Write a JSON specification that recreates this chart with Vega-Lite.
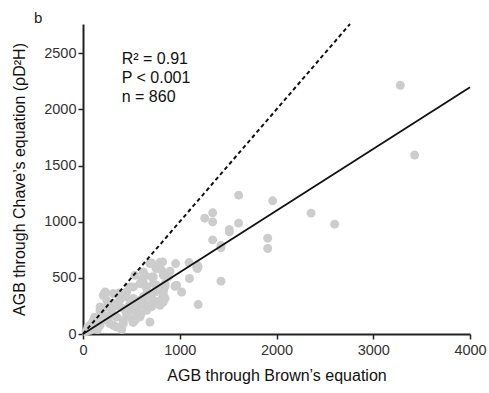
{
  "$schema": "https://vega.github.io/schema/vega-lite/v6.json",
  "width": 387,
  "height": 310,
  "autosize": {"type": "none"},
  "padding": {"left": 83, "top": 24, "right": 19, "bottom": 59},
  "background": "white",
  "title": {"text": "b", "anchor": "start", "frame": "group", "fontSize": 15, "fontWeight": "normal", "font": "Liberation Sans", "color": "#222", "dx": -49, "dy": 10, "offset": 4},
  "config": {
    "view": {"stroke": null},
    "font": "Liberation Sans",
    "axis": {
      "grid": false,
      "domainColor": "#222",
      "domainWidth": 2,
      "tickColor": "#222",
      "tickWidth": 1.5,
      "tickSize": 5,
      "labelColor": "#333",
      "labelFont": "Liberation Sans",
      "labelFontSize": 14.5,
      "titleFont": "Liberation Sans",
      "titleFontSize": 16,
      "titleFontWeight": "normal",
      "titleColor": "#111"
    }
  },
  "datasets": {
    "trees": [
      {"brown": 3280, "chave": 2214}, {"brown": 3428, "chave": 1593}, {"brown": 1609, "chave": 1236}, {"brown": 1960, "chave": 1186},
      {"brown": 1258, "chave": 1031}, {"brown": 1340, "chave": 1079}, {"brown": 1340, "chave": 998}, {"brown": 1609, "chave": 987},
      {"brown": 1512, "chave": 930}, {"brown": 1512, "chave": 909}, {"brown": 2357, "chave": 1076}, {"brown": 2601, "chave": 978},
      {"brown": 1340, "chave": 838}, {"brown": 1426, "chave": 788}, {"brown": 1426, "chave": 767}, {"brown": 1909, "chave": 853},
      {"brown": 1909, "chave": 761}, {"brown": 1426, "chave": 470}, {"brown": 1190, "chave": 600}, {"brown": 1190, "chave": 262},
      {"brown": 823, "chave": 642}, {"brown": 958, "chave": 627}, {"brown": 1096, "chave": 636}, {"brown": 1181, "chave": 612},
      {"brown": 755, "chave": 583}, {"brown": 1181, "chave": 583}, {"brown": 882, "chave": 508}, {"brown": 710, "chave": 508},
      {"brown": 1100, "chave": 494}, {"brown": 951, "chave": 425}, {"brown": 848, "chave": 425}, {"brown": 710, "chave": 633},
      {"brown": 1175, "chave": 592}, {"brown": 830, "chave": 523}, {"brown": 968, "chave": 434}, {"brown": 1020, "chave": 374},
      {"brown": 830, "chave": 374}, {"brown": 710, "chave": 247}, {"brown": 537, "chave": 122}, {"brown": 589, "chave": 449},
      {"brown": 623, "chave": 494}, {"brown": 537, "chave": 523}, {"brown": 658, "chave": 360}, {"brown": 589, "chave": 300},
      {"brown": 417, "chave": 122}, {"brown": 313, "chave": 78}, {"brown": 107, "chave": 122}, {"brown": 72, "chave": 78},
      {"brown": 176, "chave": 211}, {"brown": 313, "chave": 271}, {"brown": 451, "chave": 330}, {"brown": 486, "chave": 419},
      {"brown": 520, "chave": 300}, {"brown": 417, "chave": 226}, {"brown": 279, "chave": 167}, {"brown": 796, "chave": 639},
      {"brown": 692, "chave": 627}, {"brown": 813, "chave": 568}, {"brown": 623, "chave": 553}, {"brown": 607, "chave": 479},
      {"brown": 727, "chave": 449}, {"brown": 848, "chave": 449}, {"brown": 520, "chave": 419}, {"brown": 658, "chave": 405},
      {"brown": 744, "chave": 374}, {"brown": 227, "chave": 374}, {"brown": 313, "chave": 360}, {"brown": 451, "chave": 374},
      {"brown": 382, "chave": 330}, {"brown": 520, "chave": 316}, {"brown": 245, "chave": 300}, {"brown": 623, "chave": 300},
      {"brown": 848, "chave": 316}, {"brown": 692, "chave": 256}, {"brown": 796, "chave": 256}, {"brown": 245, "chave": 241},
      {"brown": 520, "chave": 241}, {"brown": 382, "chave": 241}, {"brown": 640, "chave": 523}, {"brown": 727, "chave": 508},
      {"brown": 640, "chave": 434}, {"brown": 762, "chave": 434}, {"brown": 830, "chave": 389}, {"brown": 658, "chave": 345},
      {"brown": 830, "chave": 345}, {"brown": 640, "chave": 271}, {"brown": 830, "chave": 285}, {"brown": 210, "chave": 345},
      {"brown": 417, "chave": 330}, {"brown": 623, "chave": 330}, {"brown": 176, "chave": 241}, {"brown": 486, "chave": 211},
      {"brown": 589, "chave": 152}, {"brown": 520, "chave": 107}, {"brown": 417, "chave": 93}, {"brown": 279, "chave": 93},
      {"brown": 141, "chave": 62}, {"brown": 72, "chave": 33}, {"brown": 658, "chave": 211}, {"brown": 692, "chave": 107},
      {"brown": 313, "chave": 167}, {"brown": 176, "chave": 152}, {"brown": 107, "chave": 107}, {"brown": 176, "chave": 78},
      {"brown": 517, "chave": 104}, {"brown": 348, "chave": 62}, {"brown": 823, "chave": 330}, {"brown": 703, "chave": 330},
      {"brown": 703, "chave": 241}, {"brown": 589, "chave": 256}, {"brown": 234, "chave": 369}, {"brown": 503, "chave": 137},
      {"brown": 30, "chave": 20}, {"brown": 50, "chave": 60}, {"brown": 150, "chave": 40}, {"brown": 250, "chave": 120},
      {"brown": 350, "chave": 150}, {"brown": 450, "chave": 180}, {"brown": 550, "chave": 200}, {"brown": 380, "chave": 300},
      {"brown": 300, "chave": 220}, {"brown": 200, "chave": 180}, {"brown": 120, "chave": 150}, {"brown": 90, "chave": 90},
      {"brown": 400, "chave": 40}, {"brown": 600, "chave": 180}, {"brown": 480, "chave": 260}, {"brown": 760, "chave": 290},
      {"brown": 900, "chave": 560}, {"brown": 372, "chave": 365}
    ],
    "oneToOne": [{"brown": 0, "chave": 0}, {"brown": 2760, "chave": 2760}],
    "fit": [{"brown": 0, "chave": 0}, {"brown": 4000, "chave": 2196}]
  },
  "layer": [
    {
      "data": {"name": "trees"},
      "mark": {"type": "circle", "size": 80, "color": "#cccccc", "opacity": 1},
      "encoding": {
        "x": {
          "field": "brown", "type": "quantitative",
          "scale": {"domain": [0, 4000], "nice": false, "zero": true},
          "axis": {"values": [0, 1000, 2000, 3000, 4000], "format": "d", "title": "AGB through Brown’s equation", "labelPadding": 4, "titlePadding": 11, "labelFlush": false}
        },
        "y": {
          "field": "chave", "type": "quantitative",
          "scale": {"domain": [0, 2760], "nice": false, "zero": true},
          "axis": {"values": [0, 500, 1000, 1500, 2000, 2500], "format": "d", "title": "AGB through Chave’s equation (ρD²H)", "labelPadding": 2, "titlePadding": 16}
        }
      }
    },
    {
      "data": {"name": "oneToOne"},
      "mark": {"type": "line", "color": "#111", "strokeWidth": 2, "strokeDash": [4, 3]},
      "encoding": {
        "x": {"field": "brown", "type": "quantitative"},
        "y": {"field": "chave", "type": "quantitative"}
      }
    },
    {
      "data": {"name": "fit"},
      "mark": {"type": "line", "color": "#111", "strokeWidth": 1.8},
      "encoding": {
        "x": {"field": "brown", "type": "quantitative"},
        "y": {"field": "chave", "type": "quantitative"}
      }
    },
    {
      "data": {"values": [{}]},
      "mark": {"type": "text", "align": "left", "baseline": "middle", "fontSize": 16, "lineHeight": 18.7, "color": "#111", "font": "Liberation Sans"},
      "encoding": {
        "x": {"datum": 400},
        "y": {"datum": 2446},
        "text": {"value": ["R² = 0.91", "P < 0.001", "n = 860"]}
      }
    }
  ]
}
